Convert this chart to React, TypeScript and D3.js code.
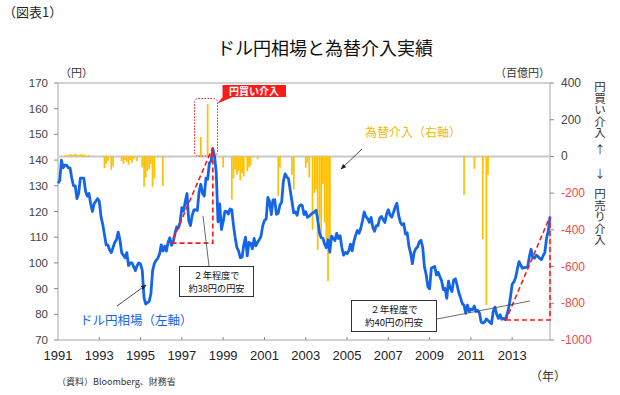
import * as d3 from "d3";

// USD/JPY, monthly, Jan 1991 – Nov 2014 (yen)
const usdJpy = [
  131, 132, 140, 137, 138, 138, 137, 137, 133, 130, 130, 125,
  127, 133, 133, 133, 128, 126, 127, 123, 120, 123, 124, 125,
  124, 118, 115, 111, 107, 107, 105, 104, 106, 108, 109, 112,
  109, 104, 103, 102, 104, 99, 100, 100, 98.5, 97, 99, 100,
  99.5, 97, 86.5, 84, 84.5, 85, 88, 97, 99.7, 101, 101.8, 103.4,
  107, 104.6, 106.5, 104.6, 108, 109.8, 106.8, 108.3, 111.4, 114, 113.6, 115.9,
  121.5, 120.2, 124, 127, 116.5, 114.5, 118.5, 120.6, 120.7, 120.4, 127.7, 130.6,
  127, 126, 133, 132.5, 138.8, 139.6, 144.4, 141.5, 135, 116, 123, 113,
  116, 120, 120, 119, 121, 120.7, 114.6, 109.8, 106, 104.6, 102, 102.2,
  107, 110, 102.7, 108, 107.6, 105.5, 109.5, 106.6, 108, 109, 110.4, 114.4,
  116.5, 117, 125.5, 123.8, 118.8, 124.5, 124.6, 118.9, 119.3, 122.5, 123.6, 131.7,
  134.6, 133.5, 132.7, 128.3, 124, 119.5, 119.8, 118.5, 121.8, 122.6, 122.3, 118.8,
  119.9, 117.7, 118.1, 118.9, 119.4, 119.8, 120.5, 116.8, 111.6, 109.8, 109.6, 107.2,
  105.9, 109, 104.2, 110.4, 109.6, 108.7, 111.5, 109.5, 110.6, 106, 103, 104.1,
  103.6, 104.6, 107.3, 104.7, 108.3, 110.7, 112.6, 111.5, 113.4, 116.4, 119.8, 118,
  117.2, 115.8, 117.7, 113.8, 112.3, 114.5, 114.5, 117.4, 118.1, 116.9, 115.7, 119,
  120.7, 118.6, 117.8, 119.6, 121.7, 123.2, 118.6, 115.8, 114.8, 115.3, 111.2, 111.7,
  106.4, 103.8, 99.7, 104, 105.5, 106.2, 108.1, 108.8, 106.1, 98.5, 95.5, 90.8,
  89.9, 97.9, 98.3, 98.6, 95.3, 96.4, 94.6, 93, 89.6, 90.1, 86.2, 92.9,
  90.3, 88.9, 93.4, 93.8, 91.3, 88.4, 86.4, 84.2, 83.5, 80.4, 83.6, 81.1,
  82, 81.8, 83.2, 81.1, 81.5, 80.5, 76.9, 76.6, 77, 78.2, 77.6, 76.9,
  76.3, 81.2, 82.8, 80, 78.4, 79.8, 78.1, 78.4, 77.9, 79.8, 82.5, 86.6,
  91.7, 92.6, 94.2, 97.5, 100.5, 99.1, 97.9, 98.2, 98.3, 98.4, 102.4, 105.3,
  102, 101.8, 103, 102.5, 101.8, 101.3, 102.8, 104, 109.7, 112.3, 118,
];

// intervention (百億円): + = yen buying, - = yen selling
const interventionTime = [
  1991.33, 1991.42, 1991.5, 1991.58, 1991.67, 1991.75, 1991.83, 1991.92,
  1992.0, 1992.08, 1992.17, 1992.25, 1992.33, 1992.42, 1992.5,
  1993.25, 1993.33, 1993.42, 1993.58, 1993.67,
  1994.08, 1994.17, 1994.25, 1994.33, 1994.42, 1994.5, 1994.58, 1994.67, 1994.83,
  1995.08, 1995.17, 1995.25, 1995.33, 1995.42, 1995.5, 1995.58, 1995.67,
  1996.08, 1997.92, 1998.25,
  1999.0, 1999.42, 1999.5, 1999.58, 1999.67, 1999.75, 1999.83, 1999.92,
  2000.0, 2000.17, 2000.25, 2000.33, 2000.67,
  2001.67, 2001.75, 2002.33, 2002.42,
  2003.0, 2003.08, 2003.17, 2003.33, 2003.42, 2003.5, 2003.58, 2003.67,
  2003.75, 2003.83, 2003.92, 2004.0, 2004.08, 2004.17,
  2010.67, 2011.17, 2011.58, 2011.75, 2011.83,
];
const interventionAmount = [
  4, 8, 6, 12, 10, 8, 14, 10,
  6, 12, 8, 10, 6, 4, 8,
  -63, -40, -25, -73, -55,
  -25, -40, -20, -30, -45, -20, -35, -15, -25,
  -60, -165, -115, -80, -70, -40, -165, -120,
  -160, 106, 286,
  -60, -235, -120, -70, -100, -80, -130, -90,
  -110, -80, -60, -50, -15,
  -215, -60, -100, -180,
  -62, -35, -115, -400, -200, -180, -510, -345,
  -440, -150, -360, -460, -680, -530,
  -210, -68, -450, -810, -100,
];

const leftTicks = [70, 80, 90, 100, 110, 120, 130, 140, 150, 160, 170];
const rightTicks = [400, 200, 0, -200, -400, -600, -800, -1000];
const yearTicks = [1991, 1993, 1995, 1997, 1999, 2001, 2003, 2005, 2007, 2009, 2011, 2013];

// depreciation triangles, [year, yen]
const rise1 = { t0: 1996.5, t1: 1998.5, lo: 107.7, hi: 145 };
const rise2 = { t0: 2012.7, t1: 2014.833, lo: 77.8, hi: 118 };

const JP = "'Noto Sans CJK JP', sans-serif";
const NUM = "'Liberation Sans', Arial, sans-serif";

export default function App() {
  const W = 620;
  const H = 395;
  const left = 58, right = 550, top = 83, bottom = 340;

  const x = d3
    .scaleLinear()
    .domain([1991, 1991 + (usdJpy.length - 1) / 12])
    .range([left, right]);
  const yL = d3.scaleLinear().domain([70, 170]).range([bottom, top]);
  const yR = d3.scaleLinear().domain([-1000, 400]).range([bottom, top]);

  const line = d3
    .line<number>()
    .x((d, i) => x(1991 + i / 12))
    .y((d) => yL(d));

  const tri = (r) =>
    `M${x(r.t0)},${yL(r.lo)}L${x(r.t1)},${yL(r.lo)}L${x(r.t1)},${yL(r.hi)}Z`;

  const barW = x(1991 + 1 / 12) - x(1991);
  const red = "#ff1a1a";
  const vert = { writingMode: "vertical-rl" as const };

  return (
    <svg
      width={W}
      height={H}
      style={{ position: "absolute", left: 0, top: 0, background: "#fff" }}
    >
      <defs>
        <marker id="ah" viewBox="0 0 10 10" refX="9" refY="5" markerWidth="7" markerHeight="7" orient="auto">
          <path d="M0,1L10,5L0,9Z" fill="#222" />
        </marker>
      </defs>

      <text x={3} y={17} fontFamily={JP} fontSize={13} fill="#222">（図表1）</text>
      <text x={325} y={55} textAnchor="middle" fontFamily={JP} fontSize={18} fill="#111">
        ドル円相場と為替介入実績
      </text>
      <text x={60} y={77} fontFamily={JP} fontSize={11} fill="#333">（円）</text>
      <text x={550} y={77} textAnchor="end" fontFamily={JP} fontSize={11} fill="#333">（百億円）</text>

      {/* plot frame */}
      <rect x={left} y={top} width={right - left} height={bottom - top} fill="none" stroke="#a6a6a6" strokeWidth={1} />

      {/* zero line of right axis */}
      <line x1={left} x2={right} y1={yR(0)} y2={yR(0)} stroke="#c8c8c8" strokeWidth={2} />

      {/* intervention bars */}
      {interventionTime.map((t, i) => {
        const v = interventionAmount[i];
        return (
          <rect
            key={i}
            x={x(t) - barW / 2}
            width={barW}
            y={Math.min(yR(0), yR(v))}
            height={Math.abs(yR(v) - yR(0))}
            fill="#ffc000"
          />
        );
      })}

      {/* left axis */}
      {leftTicks.map((v) => (
        <g key={v}>
          <line x1={left - 4} x2={left} y1={yL(v)} y2={yL(v)} stroke="#888" />
          <text x={left - 10} y={yL(v) + 4} textAnchor="end" fontFamily={NUM} fontSize={11.5} fill="#444">
            {v}
          </text>
        </g>
      ))}

      {/* right axis */}
      {rightTicks.map((v) => (
        <g key={v}>
          <line x1={right} x2={right + 4} y1={yR(v)} y2={yR(v)} stroke="#888" />
          <text x={right + 11} y={yR(v) + 4} fontFamily={NUM} fontSize={12} fill={v < 0 ? "#f04848" : "#444"}>
            {v}
          </text>
        </g>
      ))}

      {/* bottom axis */}
      {yearTicks.map((t) => (
        <g key={t}>
          {t > 1991 && <line x1={x(t)} x2={x(t)} y1={bottom - 3} y2={bottom} stroke="#888" />}
          <text x={x(t)} y={bottom + 20} textAnchor="middle" fontFamily={NUM} fontSize={13} fill="#222">
            {t}
          </text>
        </g>
      ))}
      <text x={548} y={381} textAnchor="middle" fontFamily={JP} fontSize={12} fill="#333">（年）</text>
      <text x={57} y={385} fontFamily={JP} fontSize={9} fill="#333">（資料）Bloomberg、財務省</text>

      {/* USD/JPY line */}
      <path d={line(usdJpy) ?? ""} fill="none" stroke="#1565e8" strokeWidth={2.8} strokeLinejoin="round" />

      {/* red dashed depreciation triangles */}
      <path d={tri(rise1)} fill="none" stroke={red} strokeWidth={1.6} strokeDasharray="5,3" />
      <path d={tri(rise2)} fill="none" stroke={red} strokeWidth={1.6} strokeDasharray="5,3" />

      {/* yen-buying callout */}
      <rect x={194.5} y={98.5} width={23} height={57.5} rx={4} fill="none" stroke={red} strokeWidth={1} strokeDasharray="1.5,1.5" />
      <path d="M223,96.5L217.5,103.5L234,96.5Z" fill={red} />
      <rect x={222.5} y={85} width={63.5} height={12} fill={red} />
      <text x={254} y={95} textAnchor="middle" fontFamily={JP} fontSize={10} fontWeight="bold" fill="#fff">
        円買い介入
      </text>

      {/* intervention label */}
      <text x={365} y={137} fontFamily={JP} fontSize={12} fill="#f5b800">為替介入（右軸）</text>
      <line x1={362} y1={149} x2={341} y2={169} stroke="#222" strokeWidth={0.8} markerEnd="url(#ah)" />

      {/* USD/JPY label */}
      <text x={80} y={325} fontFamily={JP} fontSize={12.5} fill="#1565e8">ドル円相場（左軸）</text>
      <line x1={117} y1={306} x2={146} y2={285} stroke="#222" strokeWidth={0.8} markerEnd="url(#ah)" />

      {/* note boxes */}
      <line x1={209} y1={266} x2={203} y2={216} stroke="#444" strokeWidth={0.8} />
      <rect x={179.5} y={266.5} width={74} height={30} fill="#fff" stroke="#333" strokeWidth={1} />
      <text x={216.5} y={278.5} textAnchor="middle" fontFamily={JP} fontSize={9.2} fill="#111">２年程度で</text>
      <text x={216.5} y={291.8} textAnchor="middle" fontFamily={JP} fontSize={9.2} fill="#111">約38円の円安</text>

      <line x1={437} y1={319} x2={530} y2={301} stroke="#444" strokeWidth={0.8} />
      <rect x={351.5} y={300.5} width={85} height={31} fill="#fff" stroke="#333" strokeWidth={1} />
      <text x={394} y={313} textAnchor="middle" fontFamily={JP} fontSize={9.5} fill="#111">２年程度で</text>
      <text x={394} y={326} textAnchor="middle" fontFamily={JP} fontSize={9.5} fill="#111">約40円の円安</text>

      {/* vertical right-side caption */}
      <text x={600} y={81} style={vert} fontFamily={JP} fontSize={11.5} fill="#333">円買い介入</text>
      <text x={600} y={154} textAnchor="middle" fontFamily={JP} fontSize={11} fill="#333">↑</text>
      <text x={600} y={178} textAnchor="middle" fontFamily={JP} fontSize={11} fill="#333">↓</text>
      <text x={600} y={188} style={vert} fontFamily={JP} fontSize={11.5} fill="#333">円売り介入</text>
    </svg>
  );
}
